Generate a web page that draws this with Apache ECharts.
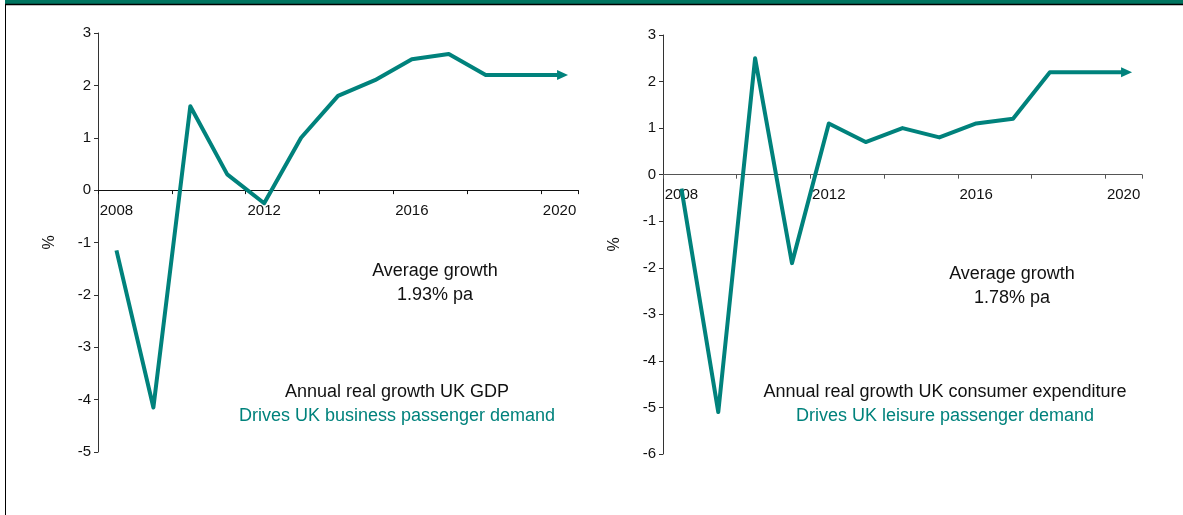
<!DOCTYPE html>
<html>
<head>
<meta charset="utf-8">
<script src="https://cdn.jsdelivr.net/npm/echarts@6/dist/echarts.min.js"></script>
<style>
  html, body { margin: 0; padding: 0; background: #fff; }
  #chart { width: 1183px; height: 515px; }
</style>
</head>
<body>
<div id="chart"></div>
<script>
// Years shown on both panels (annual observations + forecast to 2020)
const years = ['2008','2009','2010','2011','2012','2013','2014','2015','2016','2017','2018','2019','2020'];

// Annual real growth, UK GDP (%)
const gdpGrowth = [-1.15, -4.15, 1.6, 0.3, -0.25, 1.0, 1.8, 2.1, 2.5, 2.6, 2.2, 2.2, 2.2];

// Annual real growth, UK consumer expenditure (%)
const consumerGrowth = [-0.3, -5.1, 2.5, -1.9, 1.1, 0.7, 1.0, 0.8, 1.1, 1.2, 2.2, 2.2, 2.2];

// Y-axis ranges for each panel
const gdpAxis = { min: -5, max: 3, step: 1 };
const consumerAxis = { min: -6, max: 3, step: 1 };

// Captions
const gdpAverage = ['Average growth', '1.93% pa'];
const gdpCaption = ['Annual real growth UK GDP', 'Drives UK business passenger demand'];
const consumerAverage = ['Average growth', '1.78% pa'];
const consumerCaption = ['Annual real growth UK consumer expenditure', 'Drives UK leisure passenger demand'];

const TEAL = '#00827c';
const FONT = 'Liberation Sans, Arial, sans-serif';

// Panel plot areas
const grids = [
  { left: 98, top: 33, width: 480, height: 419 },
  { left: 663, top: 35, width: 479, height: 419 }
];

// The final (forecast) point ends in an arrow head pointing right
function withArrow(values) {
  return values.map((v, i) => i === values.length - 1
    ? { value: v, symbol: 'triangle', symbolSize: [10, 11], symbolRotate: -90, symbolOffset: [3, 0] }
    : { value: v, symbol: 'none' });
}

// The category axis sits on the zero line: shift it up from the grid bottom
function zeroOffset(grid, range) {
  return -grid.height * (0 - range.min) / (range.max - range.min);
}

function xAxisFor(gridIndex, lineColor, range) {
  return {
    type: 'category', gridIndex: gridIndex, data: years, boundaryGap: true,
    position: 'bottom', offset: zeroOffset(grids[gridIndex], range),
    axisLine: { onZero: false, lineStyle: { color: lineColor, width: 1 } },
    axisTick: { show: true, interval: 1, length: 4, lineStyle: { color: lineColor } },
    axisLabel: { interval: 3, margin: 13, fontSize: 15, color: '#111', fontFamily: FONT },
    splitLine: { show: false }
  };
}

function yAxisFor(gridIndex, range) {
  return {
    type: 'value', gridIndex: gridIndex, min: range.min, max: range.max, interval: range.step,
    name: '%', nameLocation: 'middle', nameRotate: 90, nameGap: 40,
    nameTextStyle: { fontSize: 16, color: '#111', fontFamily: FONT },
    axisLine: { show: true, lineStyle: { color: '#333', width: 1 } },
    axisTick: { show: true, length: 4, lineStyle: { color: '#333' } },
    axisLabel: { margin: 7, fontSize: 15, color: '#111', fontFamily: FONT },
    splitLine: { show: false }
  };
}

function lineSeries(idx, values) {
  return {
    type: 'line', xAxisIndex: idx, yAxisIndex: idx,
    data: withArrow(values),
    showSymbol: true,
    lineStyle: { color: TEAL, width: 4, cap: 'butt', join: 'round' },
    itemStyle: { color: TEAL },
    silent: true
  };
}

function textBlock(cx, cy, lines, colors) {
  return lines.map((t, i) => ({
    type: 'text',
    x: cx, y: cy + i * 24.5,
    style: { text: t, fill: colors[i], font: '18px ' + FONT, textAlign: 'center', textVerticalAlign: 'middle' },
    silent: true
  }));
}

const chart = echarts.init(document.getElementById('chart'), null, { renderer: 'canvas' });

chart.setOption({
  animation: false,
  backgroundColor: '#fff',
  grid: grids,
  xAxis: [xAxisFor(0, '#111', gdpAxis), xAxisFor(1, '#555', consumerAxis)],
  yAxis: [yAxisFor(0, gdpAxis), yAxisFor(1, consumerAxis)],
  series: [lineSeries(0, gdpGrowth), lineSeries(1, consumerGrowth)],
  graphic: [
    // header band and frame
    { type: 'rect', shape: { x: 5, y: 0, width: 1178, height: 4 }, style: { fill: '#007560' }, silent: true },
    { type: 'line', shape: { x1: 5, y1: 4.5, x2: 1183, y2: 4.5 }, style: { stroke: '#000', lineWidth: 1.5 }, silent: true },
    { type: 'line', shape: { x1: 5.5, y1: 4, x2: 5.5, y2: 515 }, style: { stroke: '#000', lineWidth: 1 }, silent: true },
    ...textBlock(435, 271, gdpAverage, ['#111', '#111']),
    ...textBlock(397, 392, gdpCaption, ['#111', TEAL]),
    ...textBlock(1012, 274, consumerAverage, ['#111', '#111']),
    ...textBlock(945, 392, consumerCaption, ['#111', TEAL])
  ]
});
</script>
</body>
</html>
